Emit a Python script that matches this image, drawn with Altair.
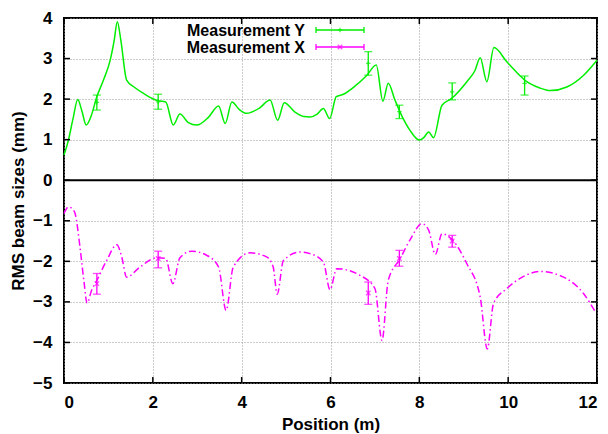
import altair as alt
import pandas as pd

# ---- data ----
ycurve_pos = [0.0, 0.1, 0.2, 0.31, 0.4, 0.5, 0.6, 0.74, 0.9, 1.04, 1.13, 1.2, 1.28, 1.41, 1.6, 1.79, 2.0, 2.12,
              2.29, 2.46, 2.61, 2.8, 2.99, 3.25, 3.48, 3.63, 3.78, 3.95, 4.11, 4.4, 4.64, 4.81, 4.96, 5.2, 5.4,
              5.54, 5.7, 5.84, 5.98, 6.13, 6.29, 6.55, 6.82, 7.03, 7.18, 7.30, 7.45, 7.6, 7.79, 8.0, 8.1, 8.21,
              8.32, 8.51, 8.73, 9.07, 9.25, 9.37, 9.52, 9.68, 9.97, 10.2, 10.42, 10.7, 10.95, 11.32, 11.7, 12.0]
ycurve_val = [0.62, 0.99, 1.50, 1.99, 1.72, 1.36, 1.55, 2.06, 2.50, 2.96, 3.45, 3.91, 3.45, 2.47, 2.28, 2.14, 2.01, 1.96,
              1.93, 1.36, 1.63, 1.42, 1.36, 1.55, 1.83, 1.40, 1.93, 1.74, 1.65, 1.78, 1.98, 1.48, 1.91, 1.68, 1.57,
              1.56, 1.63, 1.77, 1.52, 2.06, 2.12, 2.32, 2.59, 2.84, 1.95, 2.39, 1.98, 1.60, 1.23, 0.99, 1.05, 1.19,
              1.05, 1.85, 2.02, 2.43, 2.70, 3.02, 2.43, 3.27, 2.92, 2.65, 2.43, 2.28, 2.21, 2.30, 2.59, 2.96]

xcurve_pos = [0.0, 0.1, 0.2, 0.25, 0.36, 0.45, 0.52, 0.62, 0.74, 0.96, 1.19, 1.30, 1.41, 1.71, 2.09, 2.29, 2.45,
              2.61, 2.88, 3.21, 3.48, 3.65, 3.81, 4.19, 4.56, 4.71, 4.80, 4.94, 5.32, 5.54, 5.84, 5.99, 6.14, 6.67,
              7.0, 7.16, 7.30, 7.57, 7.8, 8.06, 8.21, 8.36, 8.51, 8.75, 9.07, 9.37, 9.53, 9.67, 9.97, 10.3, 10.72,
              11.32, 11.7, 11.98]
xcurve_val = [-0.82, -0.66, -0.72, -0.82, -1.65, -2.5, -3.03, -2.72, -2.47, -1.98, -1.59, -1.89, -2.39, -2.14, -1.91,
              -1.93, -2.55, -1.91, -1.75, -1.85, -2.14, -3.21, -2.14, -1.79, -1.89, -2.14, -2.81, -1.98, -1.77, -1.81,
              -2.02, -2.70, -2.18, -2.35, -2.67, -3.95, -2.47, -1.93, -1.45, -1.07, -1.23, -1.83, -1.32, -1.48, -2.06,
              -2.88, -4.16, -3.04, -2.67, -2.40, -2.25, -2.43, -2.80, -3.28]

ymeas_pos = [0.74, 2.12, 6.85, 7.55, 8.74, 10.37]
ymeas_val = [1.92, 1.93, 2.88, 1.69, 2.18, 2.39]
ymeas_lo = [1.73, 1.75, 2.59, 1.52, 1.98, 2.10]
ymeas_hi = [2.10, 2.12, 3.17, 1.85, 2.40, 2.57]

xmeas_pos = [0.74, 2.12, 6.85, 7.55, 8.74]
xmeas_val = [-2.55, -1.93, -2.78, -1.93, -1.50]
xmeas_lo = [-2.81, -2.16, -3.06, -2.12, -1.65]
xmeas_hi = [-2.30, -1.75, -2.51, -1.73, -1.36]

x_ticks = [0, 2, 4, 6, 8, 10, 12]
y_ticks = [-5, -4, -3, -2, -1, 0, 1, 2, 3, 4]
legend_labels = ["Measurement Y", "Measurement X"]

GREEN = "#00ee00"
MAGENTA = "#ff00ff"
FONT = "Liberation Sans"
W, H = 533, 365

ycurve = pd.DataFrame({"x": ycurve_pos, "y": ycurve_val})
xcurve = pd.DataFrame({"x": xcurve_pos, "y": xcurve_val})
ymeas = pd.DataFrame({"x": ymeas_pos, "y": ymeas_val, "lo": ymeas_lo, "hi": ymeas_hi})
xmeas = pd.DataFrame({"x": xmeas_pos, "y": xmeas_val, "lo": xmeas_lo, "hi": xmeas_hi})
xt = pd.DataFrame({"t": x_ticks})
yt = pd.DataFrame({"t": y_ticks})

xscale = alt.Scale(domain=[0, 12], nice=False, zero=False)
yscale = alt.Scale(domain=[-5, 4], nice=False, zero=False)

X = alt.X("x:Q", scale=xscale, title="Position (m)",
          axis=alt.Axis(values=x_ticks, format="d", grid=True, gridColor="#999999", gridDash=[1, 2],
                        gridWidth=1, domain=False, ticks=False, tickSize=0, labelPadding=11,
                        labelFont=FONT, labelFontWeight="bold", labelFontSize=17, labelColor="black",
                        titleFont=FONT, titleFontWeight="bold", titleFontSize=17, titleColor="black",
                        titleX=W / 2, titleY=46, titleBaseline="alphabetic", titleAlign="center"))
Y = alt.Y("y:Q", scale=yscale, title="RMS beam sizes (mm)",
          axis=alt.Axis(values=y_ticks, format="d", grid=True, gridColor="#999999", gridDash=[1, 2],
                        gridWidth=1, domain=False, ticks=False, tickSize=0, labelPadding=12,
                        labelFont=FONT, labelFontWeight="bold", labelFontSize=17, labelColor="black",
                        titleFont=FONT, titleFontWeight="bold", titleFontSize=17, titleColor="black",
                        titleX=-46, titleY=H / 2, titleAngle=-90, titleBaseline="middle", titleAlign="center"))

base_y = alt.Chart(ycurve).mark_line(color=GREEN, strokeWidth=1.5, interpolate="monotone").encode(x=X, y=Y)
base_x = alt.Chart(xcurve).mark_line(color=MAGENTA, strokeWidth=1.5, interpolate="monotone",
                                     strokeDash=[7, 3, 1.5, 3]).encode(x="x:Q", y="y:Q")

zero = alt.Chart(pd.DataFrame({"z": [0]})).mark_rule(color="black", strokeWidth=2).encode(y="z:Q")

PLUS = "M-1,0L1,0M0,-1L0,1"
CROSS = "M-1,-1L1,1M-1,1L1,-1"


def errbars(df, color, shape):
    bar = alt.Chart(df).mark_rule(color=color, strokeWidth=1.3).encode(x="x:Q", y="lo:Q", y2="hi:Q")
    cap_lo = alt.Chart(df).mark_tick(color=color, orient="horizontal", size=8, thickness=1.3).encode(
        x="x:Q", y="lo:Q")
    cap_hi = alt.Chart(df).mark_tick(color=color, orient="horizontal", size=8, thickness=1.3).encode(
        x="x:Q", y="hi:Q")
    pt = alt.Chart(df).mark_point(shape=shape, color=color, size=20, strokeWidth=1.3, filled=False).encode(
        x="x:Q", y="y:Q")
    return [bar, cap_lo, cap_hi, pt]


# inward ticks
tick_bot = alt.Chart(xt).mark_rule(color="black", strokeWidth=1.5).encode(
    x="t:Q", y=alt.value(H), y2=alt.value(H - 6))
tick_top = alt.Chart(xt).mark_rule(color="black", strokeWidth=1.5).encode(
    x="t:Q", y=alt.value(0), y2=alt.value(6))
tick_left = alt.Chart(yt).mark_rule(color="black", strokeWidth=1.5).encode(
    y="t:Q", x=alt.value(0), x2=alt.value(6))
tick_right = alt.Chart(yt).mark_rule(color="black", strokeWidth=1.5).encode(
    y="t:Q", x=alt.value(W), x2=alt.value(W - 6))

# legend
leg_rows = []
for i, (lab, col, shp) in enumerate(zip(legend_labels, [GREEN, MAGENTA], [PLUS, CROSS])):
    ld = pd.DataFrame({"label": [lab]})
    yrow = 12 + 17 * i
    leg_rows += [
        alt.Chart(ld).mark_text(align="right", baseline="middle", font=FONT, fontWeight="bold",
                                fontSize=16, color="black", dy=1).encode(
            text="label:N", x=alt.value(241), y=alt.value(yrow)),
        alt.Chart(ld).mark_rule(color=col, strokeWidth=1.3).encode(
            x=alt.value(252), x2=alt.value(300), y=alt.value(yrow)),
        alt.Chart(ld).mark_rule(color=col, strokeWidth=1.3).encode(
            x=alt.value(252), y=alt.value(yrow - 3), y2=alt.value(yrow + 3)),
        alt.Chart(ld).mark_rule(color=col, strokeWidth=1.3).encode(
            x=alt.value(300), y=alt.value(yrow - 3), y2=alt.value(yrow + 3)),
        alt.Chart(ld).mark_point(shape=shp, color=col, size=20, strokeWidth=1.3).encode(
            x=alt.value(276), y=alt.value(yrow)),
    ]

layers = [base_y, base_x, zero] + errbars(ymeas, GREEN, PLUS) + errbars(xmeas, MAGENTA, CROSS) + \
         [tick_bot, tick_top, tick_left, tick_right] + leg_rows

chart = alt.layer(*layers).properties(
    width=W, height=H,
    autosize=alt.AutoSizeParams(type="none"),
    padding={"left": 64, "top": 18, "right": 11, "bottom": 51},
    background="white",
).configure_view(stroke="black", strokeWidth=2)

chart.save("out.html", embed_options={"renderer": "svg", "actions": False})
